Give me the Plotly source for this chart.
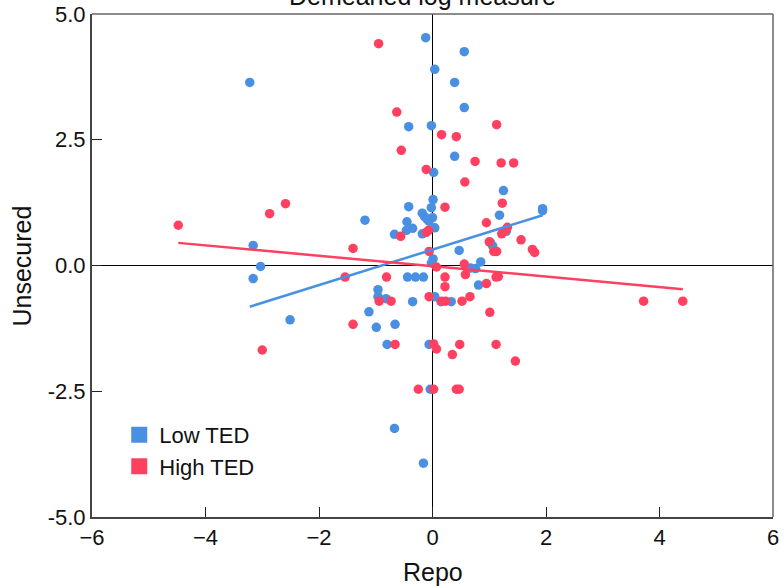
import plotly.graph_objects as go

# ---- data ----
low_x = [-3.22, -0.12, 0.56, 0.04, 0.39, 0.56, -0.42, -0.02, 0.39, 0.02, 1.25, 0.01,
         -0.42, -0.02, -0.18, -0.14, -0.09, 0.00, -0.06, -1.19, -0.45, -0.35, -0.46, 0.04,
         -0.67, -0.18, 1.18, 1.94, 1.94, 1.30, 1.02, 1.06, 0.47, 0.01, -0.02, 0.85,
         0.76, 0.67, -0.44, -0.30, -0.16, 0.81, -0.96, -0.96, -0.82, 0.04, 0.15, 0.33,
         -0.35, -1.12, -0.99, -0.66, -0.80, -0.06, -3.16, -3.03, -3.16, -2.51, -0.04,
         -0.67, -0.16]
low_y = [3.64, 4.53, 4.25, 3.90, 3.64, 3.14, 2.76, 2.78, 2.17, 1.85, 1.49, 1.31,
         1.17, 1.15, 1.04, 0.97, 0.91, 0.95, 0.88, 0.90, 0.87, 0.74, 0.70, 0.75,
         0.62, 0.63, 1.00, 1.13, 1.09, 0.68, 0.46, 0.39, 0.30, 0.13, 0.05, 0.07,
         -0.06, -0.05, -0.23, -0.23, -0.23, -0.39, -0.48, -0.62, -0.66, -0.62, -0.72, -0.72,
         -0.72, -0.92, -1.23, -1.17, -1.57, -1.57, 0.40, -0.02, -0.26, -1.08, -2.46,
         -3.24, -3.93]

high_x = [-0.95, -0.63, 0.16, 0.42, 1.13, -0.55, -0.11, 0.75, 1.21, 1.43, 0.57, 1.23,
          0.22, 0.95, 1.32, 1.29, 1.22, -0.56, -0.11, -0.07, 1.56, -1.40, 1.00, 1.08,
          1.13, 1.76, 1.80, -0.06, 0.56, 0.07, 0.58, -1.54, -0.81, 0.22, 0.22, 1.12,
          1.16, 0.95, -0.06, -0.94, -0.73, 0.16, 0.23, 0.52, 0.66, 1.01, -1.40, -0.66,
          0.02, 0.07, 0.48, 1.12, 0.35, 1.46, -4.48, -2.87, -2.59, -3.00, 3.72, 4.41,
          -0.25, 0.02, 0.42, 0.47]
high_y = [4.41, 3.05, 2.60, 2.56, 2.80, 2.29, 1.91, 2.07, 2.04, 2.04, 1.66, 1.24,
          1.16, 0.85, 0.76, 0.70, 0.63, 0.58, 0.66, 0.70, 0.51, 0.34, 0.47, 0.28,
          0.28, 0.32, 0.26, 0.28, 0.03, -0.03, -0.18, -0.23, -0.23, -0.23, -0.42, -0.23,
          -0.22, -0.36, -0.62, -0.71, -0.71, -0.71, -0.71, -0.71, -0.62, -0.93, -1.17, -1.57,
          -1.56, -1.66, -1.57, -1.57, -1.77, -1.90, 0.80, 1.03, 1.23, -1.68, -0.71, -0.71,
          -2.46, -2.46, -2.46, -2.46]

# fitted lines (endpoints)
fit_low_x = [-3.22, 1.94]
fit_low_y = [-0.82, 1.00]
fit_high_x = [-4.48, 4.41]
fit_high_y = [0.45, -0.47]

x_ticks = [-6, -4, -2, 0, 2, 4, 6]
y_ticks = [-5.0, -2.5, 0.0, 2.5, 5.0]
y_tick_text = ["-5.0", "-2.5", "0.0", "2.5", "5.0"]

BLUE = "#4A90E2"
RED = "#FF4060"
FONT = "Liberation Sans, Arial, sans-serif"
TXT = "#111"

fig = go.Figure()
fig.add_trace(go.Scatter(x=low_x, y=low_y, mode="markers", showlegend=False,
                         marker=dict(color=BLUE, size=9.5, line=dict(width=0))))
fig.add_trace(go.Scatter(x=high_x, y=high_y, mode="markers", showlegend=False,
                         marker=dict(color=RED, size=9.5, line=dict(width=0))))
fig.add_trace(go.Scatter(x=fit_low_x, y=fit_low_y, mode="lines", showlegend=False,
                         line=dict(color=BLUE, width=2.5)))
fig.add_trace(go.Scatter(x=fit_high_x, y=fit_high_y, mode="lines", showlegend=False,
                         line=dict(color=RED, width=2.5)))
# legend entries
fig.add_trace(go.Scatter(x=[None], y=[None], mode="markers", name="Low TED",
                         marker=dict(color=BLUE, size=20, symbol="square")))
fig.add_trace(go.Scatter(x=[None], y=[None], mode="markers", name="High TED",
                         marker=dict(color=RED, size=20, symbol="square")))

fig.update_layout(
    width=784, height=586,
    margin=dict(l=92, r=11, t=14, b=69, autoexpand=False),
    paper_bgcolor="white", plot_bgcolor="white",
    font=dict(family=FONT, size=22, color=TXT),
    legend=dict(x=0.04, y=0.205, xanchor="left", yanchor="top",
                bgcolor="rgba(0,0,0,0)", font=dict(size=22), tracegroupgap=0),
    annotations=[
        dict(text="Demeaned log measure", xref="paper", yref="paper",
             x=0.4846, y=1.003, xanchor="center", yanchor="bottom",
             showarrow=False, font=dict(size=25, family=FONT, color=TXT)),
        dict(text="Repo", xref="paper", yref="paper",
             x=0.5, y=-0.1093, xanchor="center", yanchor="middle",
             showarrow=False, font=dict(size=25, family=FONT, color=TXT)),
        dict(text="Unsecured", xref="paper", yref="paper", textangle=-90,
             x=-0.1028, y=0.5, xanchor="center", yanchor="middle",
             showarrow=False, font=dict(size=25, family=FONT, color=TXT)),
    ],
    shapes=[
        dict(type="line", xref="paper", yref="paper", x0=0, x1=1, y0=1, y1=1,
             line=dict(color="#666", width=1.5)),
        dict(type="line", xref="paper", yref="paper", x0=1, x1=1, y0=0, y1=1,
             line=dict(color="#666", width=1.5)),
    ],
)
fig.update_xaxes(range=[-6, 6], tickvals=x_ticks, ticks="inside", ticklen=10,
                 tickcolor="#222", showline=True, linecolor="#444", linewidth=2,
                 showgrid=False, zeroline=True, zerolinecolor="black", zerolinewidth=1,
                 automargin=False, tickfont=dict(size=22))
fig.update_yaxes(range=[-5, 5], tickvals=y_ticks, ticktext=y_tick_text, ticks="inside",
                 ticklen=10, tickcolor="#222", showline=True, linecolor="#444", linewidth=2,
                 showgrid=False, zeroline=True, zerolinecolor="black", zerolinewidth=1,
                 automargin=False, tickfont=dict(size=22))

fig.write_html("out.html")
